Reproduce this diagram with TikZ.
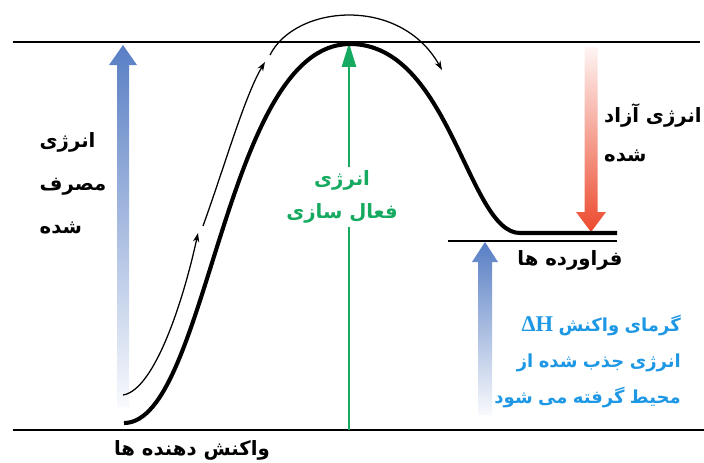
\documentclass[tikz,border=0pt]{standalone}
\usepackage{fontspec}
\usepackage{xcolor}
\usepackage{tikz}
\usetikzlibrary{arrows.meta, positioning}

\TeXXeTstate=1
\newfontfamily\persianfont[Script=Arabic]{DejaVu Sans}
\newfontfamily\latinserif{Liberation Serif}
\newcommand{\fa}[1]{\beginR #1\endR}
\newcommand{\fat}[1]{\spaceskip=0.3em\relax\beginR #1\endR}

\definecolor{usedblue}{RGB}{88,126,196}
\definecolor{actgreen}{RGB}{22,170,96}
\definecolor{freered}{RGB}{236,74,46}
\definecolor{heatblue}{RGB}{30,152,228}

\begin{document}
\begin{tikzpicture}[
    x=0.025cm, y=-0.025cm,
    level/.style={line width=1.6pt},
    profile/.style={line width=2.9pt},
    route/.style={line width=0.9pt, -{Stealth[length=6.5pt, width=4.5pt]}},
    actarrow/.style={draw=actgreen, line width=1.7pt, -{Triangle[length=17pt, width=10pt]}},
    txt/.style={font=\persianfont\bfseries\fontsize{14}{30.5}\selectfont, inner sep=0pt},
    upshade/.style={top color=usedblue, bottom color=usedblue!4},
    downshade/.style={top color=freered!6, bottom color=freered}
]
\useasboundingbox (0,0) rectangle (704,462);

% energy levels
\coordinate (topL) at (13,42);
\coordinate (topR) at (700,42);
\coordinate (botL) at (13,430);
\coordinate (botR) at (704,430);
\coordinate (prodL) at (448,241);
\coordinate (prodR) at (617,241);
\draw[level] (topL) -- (topR);
\draw[level] (botL) -- (botR);
\draw[level] (prodL) -- (prodR);

% shaded arrows
\shade[upshade, shift={(123,45)}] (0,0) -- (14,20) -- (6,20) -- (6,362) -- (-6,362) -- (-6,20) -- (-14,20) -- cycle;
\shade[upshade, shift={(485,242)}] (0,0) -- (13,20) -- (7,20) -- (7,173) -- (-7,173) -- (-7,20) -- (-13,20) -- cycle;
\shade[downshade, shift={(591,232)}] (0,0) -- (15,-20) -- (6.5,-20) -- (6.5,-185) -- (-6.5,-185) -- (-6.5,-20) -- (-15,-20) -- cycle;

% activation energy
\coordinate (actbase) at (349,430);
\coordinate (acttop) at (349,43);
\draw[actarrow] (actbase) -- (acttop);

% reaction profile
\coordinate (react) at (124,423);
\coordinate (peak) at (350,44);
\coordinate (plateau) at (520,233);
\coordinate (prodend) at (617,233);
\draw[profile] (react) .. controls (208,423) and (224,44) .. (peak)
    .. controls (450,44) and (468,233) .. (plateau) -- (prodend);

% path of the reaction
\coordinate (r1) at (123,395);
\coordinate (r2) at (198,233);
\coordinate (r3) at (203,226);
\coordinate (r4) at (265,62);
\coordinate (r5) at (270,55);
\coordinate (r6) at (442,70);
\draw[route] (r1) .. controls (155,390) and (184,298) .. (r2);
\draw[route] (r3) .. controls (225,165) and (245,95) .. (r4);
\draw[route] (r5) .. controls (295,5) and (400,-5) .. (r6);

% labels
\node[txt, align=left] (used) at (73,183) {\fa{انرژی}\\\fa{مصرف}\\\fa{شده}};
\node[txt, align=center, text=actgreen, fill=white, inner sep=3pt,
      font=\persianfont\bfseries\fontsize{14}{23}\selectfont] (act) at (342,197) {\fa{انرژی}\\\fa{فعال سازی}};
\node[txt, align=left, anchor=east,
      font=\persianfont\bfseries\fontsize{14}{28}\selectfont] (freed) at (702,133) {\fa{انرژی آزاد}\\\fa{شده}};
\node[txt] (prod) at (570,260) {\fa{فراورده ها}};
\node[txt, align=right, anchor=east, text=heatblue,
      font=\persianfont\bfseries\fontsize{12.8}{25.6}\selectfont] (heat) at (681,362)
      {\fat{گرمای واکنش \beginL{\latinserif\bfseries\fontsize{16}{20}\selectfont ΔH}\endL}\\\fat{انرژی جذب شده از}\\\fat{محیط گرفته می شود}};
\node[txt] (reactlbl) at (192,450) {\fa{واکنش دهنده ها}};

\end{tikzpicture}
\end{document}
